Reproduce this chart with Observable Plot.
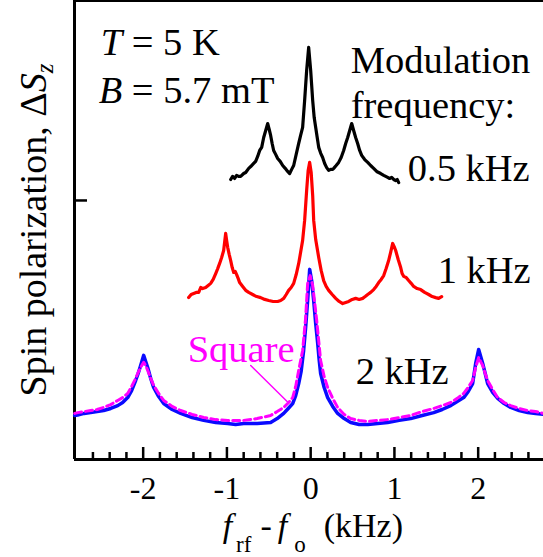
<!DOCTYPE html>
<html><head><meta charset="utf-8">
<script src="https://cdn.jsdelivr.net/npm/d3@7"></script>
<script src="https://cdn.jsdelivr.net/npm/@observablehq/plot@0.6"></script>
<style>
body{margin:0;background:#fff}
#chart svg{display:block}
#chart svg, #chart svg text, #chart svg tspan {font-family: "Liberation Serif", "Times New Roman", serif !important;}
</style>
</head><body><div id="chart"></div>
<script>
// Spectra (x = f_rf - f_o in kHz, y = spin polarization, arb. units)
const black05 = [[-0.955,1.081],[-0.932,1.093],[-0.908,1.085],[-0.884,1.097],[-0.860,1.093],[-0.836,1.093],[-0.800,1.104],[-0.776,1.108],[-0.740,1.124],[-0.716,1.131],[-0.681,1.143],[-0.657,1.151],[-0.633,1.170],[-0.609,1.193],[-0.585,1.205],[-0.561,1.243],[-0.537,1.270],[-0.513,1.297],[-0.495,1.274],[-0.478,1.251],[-0.460,1.220],[-0.442,1.193],[-0.418,1.178],[-0.394,1.162],[-0.364,1.151],[-0.334,1.135],[-0.304,1.124],[-0.275,1.112],[-0.251,1.104],[-0.227,1.120],[-0.203,1.135],[-0.173,1.178],[-0.143,1.220],[-0.120,1.251],[-0.096,1.282],[-0.072,1.386],[-0.048,1.502],[-0.024,1.591],[0,1.502],[0.024,1.386],[0.042,1.320],[0.060,1.282],[0.078,1.243],[0.096,1.205],[0.120,1.182],[0.143,1.166],[0.167,1.143],[0.191,1.127],[0.215,1.116],[0.239,1.120],[0.263,1.120],[0.275,1.124],[0.304,1.135],[0.334,1.147],[0.364,1.166],[0.394,1.193],[0.418,1.220],[0.442,1.243],[0.466,1.270],[0.490,1.297],[0.513,1.270],[0.537,1.243],[0.561,1.220],[0.585,1.193],[0.609,1.174],[0.645,1.158],[0.681,1.147],[0.716,1.135],[0.752,1.124],[0.788,1.112],[0.812,1.108],[0.836,1.104],[0.872,1.097],[0.896,1.093],[0.919,1.089],[0.943,1.085],[0.967,1.089],[0.991,1.081],[1.015,1.077],[1.033,1.081],[1.051,1.069]];

const red1 = [[-1.457,0.625],[-1.427,0.637],[-1.397,0.641],[-1.367,0.645],[-1.337,0.645],[-1.313,0.664],[-1.290,0.660],[-1.254,0.664],[-1.224,0.672],[-1.194,0.680],[-1.164,0.695],[-1.134,0.718],[-1.110,0.737],[-1.087,0.757],[-1.063,0.780],[-1.039,0.807],[-1.027,0.840],[-1.015,0.873],[-1.003,0.845],[-0.991,0.819],[-0.973,0.792],[-0.955,0.768],[-0.937,0.741],[-0.919,0.722],[-0.901,0.726],[-0.884,0.714],[-0.866,0.699],[-0.848,0.683],[-0.812,0.668],[-0.776,0.653],[-0.740,0.645],[-0.693,0.637],[-0.645,0.629],[-0.597,0.625],[-0.549,0.618],[-0.501,0.614],[-0.448,0.610],[-0.394,0.610],[-0.358,0.614],[-0.322,0.622],[-0.292,0.637],[-0.263,0.653],[-0.233,0.664],[-0.203,0.680],[-0.173,0.714],[-0.143,0.757],[-0.120,0.800],[-0.096,0.846],[-0.072,0.923],[-0.048,1.039],[-0.030,1.116],[-0.012,1.147],[0.006,1.108],[0.024,1.019],[0.036,0.923],[0.060,0.849],[0.096,0.780],[0.125,0.730],[0.155,0.691],[0.185,0.668],[0.215,0.653],[0.257,0.637],[0.299,0.622],[0.340,0.610],[0.382,0.602],[0.418,0.606],[0.454,0.610],[0.496,0.618],[0.537,0.622],[0.579,0.618],[0.621,0.622],[0.651,0.629],[0.681,0.637],[0.716,0.645],[0.752,0.656],[0.782,0.668],[0.812,0.683],[0.842,0.695],[0.872,0.710],[0.901,0.737],[0.931,0.768],[0.955,0.800],[0.979,0.834],[0.997,0.822],[1.015,0.807],[1.045,0.772],[1.075,0.741],[1.092,0.718],[1.110,0.707],[1.140,0.703],[1.170,0.691],[1.200,0.680],[1.230,0.668],[1.271,0.660],[1.313,0.656],[1.361,0.645],[1.409,0.637],[1.451,0.629],[1.493,0.625],[1.528,0.622],[1.564,0.629]];

const blue2 = [[-2.818,0.170],[-2.782,0.172],[-2.705,0.178],[-2.627,0.181],[-2.550,0.185],[-2.472,0.189],[-2.388,0.197],[-2.304,0.208],[-2.245,0.220],[-2.185,0.239],[-2.138,0.266],[-2.090,0.305],[-2.060,0.332],[-2.030,0.363],[-1.994,0.402],[-1.970,0.378],[-1.946,0.355],[-1.910,0.313],[-1.875,0.278],[-1.815,0.243],[-1.755,0.216],[-1.654,0.193],[-1.552,0.178],[-1.415,0.162],[-1.278,0.151],[-1.134,0.143],[-0.991,0.139],[-0.896,0.135],[-0.800,0.139],[-0.639,0.139],[-0.478,0.143],[-0.400,0.158],[-0.322,0.178],[-0.268,0.197],[-0.215,0.216],[-0.179,0.247],[-0.143,0.293],[-0.114,0.340],[-0.084,0.421],[-0.060,0.510],[-0.036,0.614],[-0.012,0.734],[0.012,0.690],[0.036,0.614],[0.060,0.525],[0.084,0.448],[0.101,0.386],[0.119,0.332],[0.161,0.278],[0.203,0.239],[0.263,0.205],[0.322,0.178],[0.400,0.158],[0.478,0.143],[0.579,0.135],[0.681,0.135],[0.800,0.139],[0.919,0.143],[1.057,0.151],[1.194,0.158],[1.331,0.170],[1.469,0.181],[1.570,0.193],[1.672,0.208],[1.750,0.224],[1.827,0.239],[1.880,0.262],[1.934,0.293],[1.970,0.371],[2.006,0.425],[2.030,0.398],[2.054,0.371],[2.084,0.332],[2.113,0.293],[2.173,0.259],[2.233,0.236],[2.310,0.216],[2.388,0.201],[2.490,0.189],[2.591,0.181],[2.686,0.178],[2.782,0.174]];

const square2 = [[-2.818,0.178],[-2.782,0.181],[-2.705,0.185],[-2.627,0.189],[-2.550,0.193],[-2.472,0.201],[-2.388,0.212],[-2.304,0.228],[-2.245,0.239],[-2.185,0.255],[-2.138,0.282],[-2.090,0.313],[-2.060,0.336],[-2.030,0.355],[-1.994,0.375],[-1.970,0.363],[-1.946,0.344],[-1.910,0.313],[-1.875,0.286],[-1.815,0.255],[-1.755,0.228],[-1.654,0.205],[-1.552,0.189],[-1.415,0.174],[-1.278,0.162],[-1.134,0.154],[-0.991,0.151],[-0.800,0.151],[-0.639,0.158],[-0.478,0.170],[-0.400,0.185],[-0.322,0.201],[-0.263,0.220],[-0.215,0.239],[-0.179,0.282],[-0.143,0.344],[-0.096,0.421],[-0.060,0.548],[-0.036,0.680],[-0.006,0.710],[0.024,0.672],[0.072,0.537],[0.119,0.382],[0.161,0.320],[0.203,0.278],[0.263,0.236],[0.322,0.201],[0.400,0.174],[0.478,0.158],[0.579,0.151],[0.681,0.147],[0.800,0.151],[0.919,0.154],[1.057,0.162],[1.194,0.170],[1.331,0.185],[1.469,0.197],[1.570,0.208],[1.672,0.220],[1.750,0.236],[1.827,0.255],[1.880,0.278],[1.934,0.305],[1.970,0.355],[2.006,0.394],[2.030,0.378],[2.054,0.363],[2.084,0.332],[2.113,0.305],[2.173,0.270],[2.233,0.239],[2.310,0.220],[2.388,0.208],[2.490,0.197],[2.591,0.189],[2.686,0.185],[2.782,0.178]];

const squareLeader = [[-0.716,0.363],[-0.275,0.222]];

const xMajorTicks = [-2, -1, 0, 1, 2];
const xMinorTicks = [-2.6,-2.4,-2.2,-1.8,-1.6,-1.4,-1.2,-0.8,-0.6,-0.4,-0.2,0.2,0.4,0.6,0.8,1.2,1.4,1.6,1.8,2.2,2.4,2.6];
const yTicks = [1];

const conditionLines = ["T = 5 K", "B = 5.7 mT"];
const headerLines = ["Modulation", "frequency:"];
const seriesLabels = ["0.5 kHz", "1 kHz", "2 kHz"];
const squareLabel = ["Square"];
const xLabel = ["frf - fo (kHz)"];
const yLabel = ["Spin polarization, ΔSz"];

const xDomain = [-2.82, 2.78];
const yDomain = [0, 1.772];
const serif = "'Liberation Serif', 'Times New Roman', serif";

const X = d => d[0], Y = d => d[1];
const T = {lineAnchor: "bottom", fontSize: 38.5, fontFamily: serif};

const chart = Plot.plot({
  width: 543,
  height: 557,
  marginLeft: 74,
  marginRight: 0,
  marginTop: 0,
  marginBottom: 98,
  style: {fontFamily: serif, fontSize: "32px", background: "white", color: "black"},
  x: {domain: xDomain, axis: null},
  y: {domain: yDomain, axis: null},
  marks: [
    // frame lines
    Plot.ruleX([xDomain[0]], {stroke: "black", strokeWidth: 3}),
    Plot.ruleY([yDomain[0]], {stroke: "black", strokeWidth: 3}),
    Plot.ruleY([yDomain[1]], {stroke: "black", strokeWidth: 3}),
    // inward ticks
    Plot.tickX(xMajorTicks, {x: d => d, insetTop: 447, stroke: "black", strokeWidth: 2.5}),
    Plot.tickX(xMinorTicks, {x: d => d, insetTop: 452, stroke: "black", strokeWidth: 2.5}),
    Plot.tickY(yTicks, {y: d => d, insetRight: 456, stroke: "black", strokeWidth: 2.5}),
    Plot.axisX(xMajorTicks, {tickSize: 0, tickPadding: 39, lineAnchor: "bottom", tickFormat: d => String(d), fontSize: 32, fontFamily: serif}),
    // curves
    Plot.line(blue2, {x: X, y: Y, stroke: "#0a0aff", strokeWidth: 3.5}),
    Plot.line(square2, {x: X, y: Y, stroke: "#ff00ff", strokeWidth: 3, strokeDasharray: "7,4"}),
    Plot.line(red1, {x: X, y: Y, stroke: "#ff0000", strokeWidth: 3.2}),
    Plot.line(black05, {x: X, y: Y, stroke: "black", strokeWidth: 3.2}),
    Plot.line(squareLeader, {x: X, y: Y, stroke: "#ff00ff", strokeWidth: 1.5}),
    // annotations
    Plot.text([conditionLines[0]], {...T, x: -2.507, y: 1.560, textAnchor: "start"}),
    Plot.text([conditionLines[1]], {...T, x: -2.531, y: 1.378, textAnchor: "start"}),
    Plot.text([headerLines[0]], {...T, x: 0.478, y: 1.494, textAnchor: "start"}),
    Plot.text([headerLines[1]], {...T, x: 0.478, y: 1.317, textAnchor: "start"}),
    Plot.text([seriesLabels[0]], {...T, x: 2.615, y: 1.077, textAnchor: "end"}),
    Plot.text([seriesLabels[1]], {...T, x: 2.627, y: 0.683, textAnchor: "end"}),
    Plot.text([seriesLabels[2]], {...T, x: 1.648, y: 0.293, textAnchor: "end"}),
    Plot.text(squareLabel, {...T, x: -1.469, y: 0.375, textAnchor: "start", fill: "#ff00ff"}),
    // axis titles
    Plot.text(xLabel, {...T, x: -1.051, frameAnchor: "bottom", dy: 77, textAnchor: "start", fontSize: 34}),
    Plot.text(yLabel, {...T, frameAnchor: "left", dx: -29, rotate: -90, textAnchor: "middle", fontSize: 38})
  ]
});

// rich text: italics and subscripts
const rich = {
  "T = 5 K": '<tspan font-style="italic">T</tspan> = 5 K',
  "B = 5.7 mT": '<tspan font-style="italic">B</tspan> = 5.7 mT',
  "frf - fo (kHz)": '<tspan font-style="italic">f</tspan><tspan font-size="23" dx="4" dy="15">rf</tspan><tspan dx="9" dy="-15">-</tspan><tspan font-style="italic" dx="6">f</tspan><tspan font-size="23" dx="7" dy="15">o</tspan><tspan dx="18" dy="-15">(kHz)</tspan>',
  "Spin polarization, ΔSz": 'Spin polarization, Δ<tspan font-style="italic">S</tspan><tspan font-style="italic" font-size="25" dy="7">z</tspan>'
};
d3.select(chart).selectAll("text").each(function() {
  const s = this.textContent;
  if (rich[s] !== undefined) this.innerHTML = rich[s];
});

document.getElementById("chart").appendChild(chart);
</script>
</body></html>
